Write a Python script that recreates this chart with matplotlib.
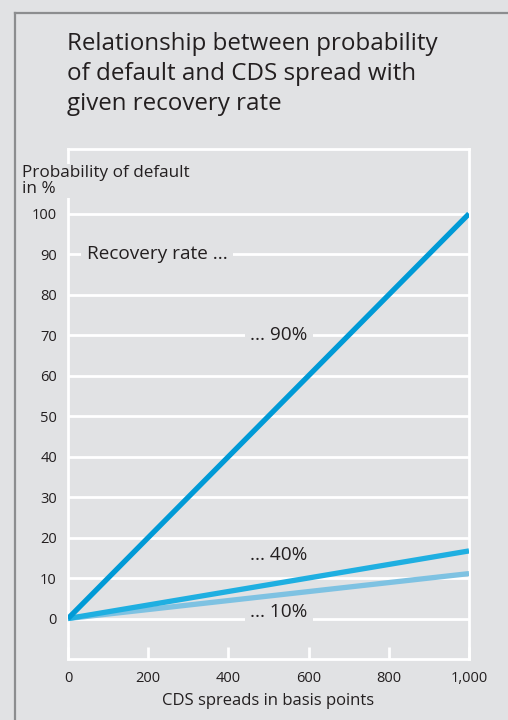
import matplotlib
matplotlib.use("Agg")
from matplotlib import pyplot as plt
from matplotlib.lines import Line2D

# data
spread_bp = [0, 1000]
pd_rr90 = [0, 100]
pd_rr40 = [0, 16.7]
pd_rr10 = [0, 11.1]
y_ticks = [0, 10, 20, 30, 40, 50, 60, 70, 80, 90, 100]
x_ticks = [0, 200, 400, 600, 800, 1000]
x_labels = ["0", "200", "400", "600", "800", "1,000"]

bg = "#e1e2e4"
ink = "#231f20"
plt.rcParams["font.family"] = ["Open Sans", "DejaVu Sans"]

fig = plt.figure(figsize=(5.08, 7.20), dpi=100, facecolor=bg)

# outer frame (top and left edges)
fig.add_artist(Line2D([14.5 / 508, 1], [1 - 13 / 720, 1 - 13 / 720], color="#8c8d8f", lw=1.6))
fig.add_artist(Line2D([14.5 / 508, 14.5 / 508], [0, 1 - 13 / 720], color="#8c8d8f", lw=1.6))

fig.text(67 / 508, 1 - 32 / 720,
         "Relationship between probability\nof default and CDS spread with\ngiven recovery rate",
         ha="left", va="top", fontsize=17.4, color=ink, linespacing=1.33)

ax = fig.add_axes([68 / 508, 1 - 659 / 720, 401 / 508, 510 / 720])
ax.set_facecolor(bg)
ax.set_xlim(0, 1000)
ax.set_ylim(-10, 116)

for s in ax.spines.values():
    s.set_color("white")
    s.set_linewidth(2)

ax.set_yticks(y_ticks)
ax.set_yticklabels([str(v) for v in y_ticks])
ax.tick_params(axis="y", length=0, pad=8, labelsize=10.5, labelcolor=ink)
ax.set_xticks(x_ticks)
ax.set_xticklabels(x_labels)
ax.tick_params(axis="x", direction="in", length=9, width=2, color="white",
               pad=9, labelsize=10.5, labelcolor=ink)
ax.yaxis.grid(True, color="white", lw=2)
ax.set_axisbelow(True)

ax.plot(spread_bp, pd_rr10, color="#7ec2e2", lw=3.8, solid_capstyle="butt", zorder=4)
ax.plot(spread_bp, pd_rr40, color="#1fafe1", lw=3.8, solid_capstyle="butt", zorder=5)
ax.plot(spread_bp, pd_rr90, color="#009ad6", lw=3.8, solid_capstyle="butt", zorder=6)

box = dict(facecolor=bg, edgecolor="none", pad=4)
ax.text(47, 90, "Recovery rate ...", ha="left", va="center", fontsize=13.7, color=ink, bbox=box, zorder=3)
ax.text(454, 70, "... 90%", ha="left", va="center", fontsize=13.7, color=ink, bbox=box, zorder=3)
ax.text(454, 15.8, "... 40%", ha="left", va="center", fontsize=13.7, color=ink, bbox=box, zorder=3)
ax.text(454, 1.5, "... 10%", ha="left", va="center", fontsize=13.7, color=ink, bbox=box, zorder=3)

ax.set_xlabel("CDS spreads in basis points", fontsize=12, color=ink, labelpad=5)

fig.text(22 / 508, 1 - 165 / 720, "Probability of default\nin %", ha="left", va="top",
         fontsize=12.3, color=ink, linespacing=1.0,
         bbox=dict(facecolor=bg, edgecolor="none", pad=1))

fig.savefig("out.png", dpi=100, facecolor=bg)
